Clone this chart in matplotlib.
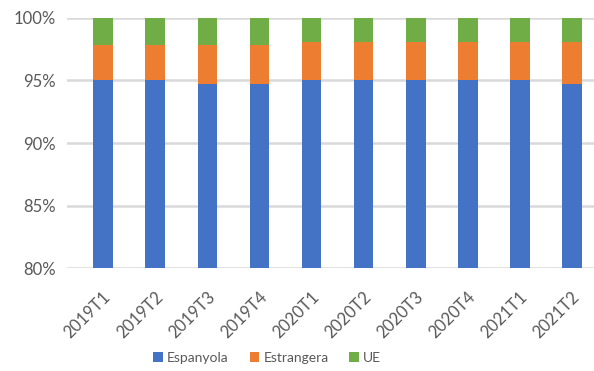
import matplotlib.pyplot as plt
import matplotlib.transforms as mtransforms
import numpy as np

# quarterly share by nationality (%)
quarters = ["2019T1", "2019T2", "2019T3", "2019T4", "2020T1",
            "2020T2", "2020T3", "2020T4", "2021T1", "2021T2"]
espanyola = [95.0, 95.0, 94.7, 94.7, 95.0, 95.0, 95.0, 95.0, 95.0, 94.7]
estrangera = [2.8, 2.8, 3.1, 3.1, 3.1, 3.1, 3.1, 3.1, 3.1, 3.4]
ue = [2.2, 2.2, 2.2, 2.2, 1.9, 1.9, 1.9, 1.9, 1.9, 1.9]

plt.rcParams["font.family"] = ["Lato", "DejaVu Sans"]
txt_color = "#595959"

fig = plt.figure(figsize=(5.94, 3.71), dpi=100)
ax = fig.add_axes([0.113, 0.2776, 0.887, 0.6739])

x = np.arange(len(quarters))
esp = np.array(espanyola)
est = np.array(estrangera)
w = 0.375
ax.bar(x, esp, w, color="#4472c4", label="Espanyola", zorder=3)
ax.bar(x, est, w, bottom=esp, color="#ed7d31", label="Estrangera", zorder=3)
ax.bar(x, ue, w, bottom=esp + est, color="#70ad47", label="UE", zorder=3)

ax.set_ylim(80, 100)
ax.set_xlim(-0.69, 9.42)
ax.set_yticks([80, 85, 90, 95, 100])
ax.set_yticklabels(["80%", "85%", "90%", "95%", "100%"])
ax.set_xticks(x)
ax.set_xticklabels([])

# rotated quarter labels, shifted a little right and down like the original
shift = mtransforms.ScaledTranslation(5 / 100, -26 / 100, fig.dpi_scale_trans)
for xi, q in zip(x, quarters):
    ax.text(xi, 0, q, transform=ax.get_xaxis_transform() + shift,
            rotation=45, ha="right", va="center", rotation_mode="anchor",
            fontsize=12, color=txt_color)

ax.grid(axis="y", color="#d9d9d9", linewidth=1.8, zorder=0)
ax.tick_params(axis="y", length=0, labelsize=12, labelcolor=txt_color, pad=8)
ax.tick_params(axis="x", length=0)
for s in ax.spines.values():
    s.set_visible(False)
ax.set_axisbelow(True)

fig.legend(loc="center", bbox_to_anchor=(0.45, 0.035), ncol=3, frameon=False,
           fontsize=10, labelcolor=txt_color, handlelength=0.7, handleheight=0.7,
           handletextpad=0.3, columnspacing=1.5)

fig.savefig("out.png", dpi=100)
